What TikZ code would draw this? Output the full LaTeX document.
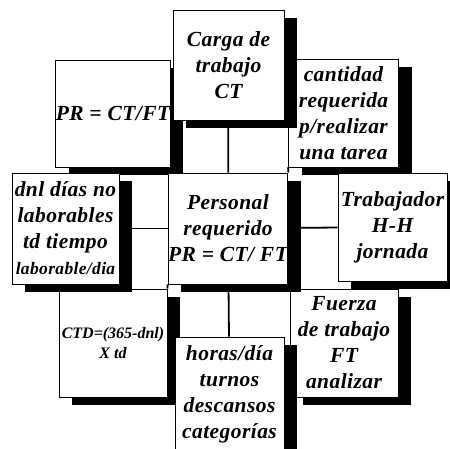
\documentclass[tikz,border=0pt]{standalone}
\usepackage{fontspec}
\setmainfont{Liberation Serif}
\usetikzlibrary{shadows,backgrounds}
\begin{document}
\begin{tikzpicture}[x=1pt,y=-1pt,
  box/.style={draw=black, line width=0.8pt, fill=white, rectangle, inner sep=0pt,
    align=center, font=\fontsize{21.5}{26}\selectfont\bfseries\itshape\addfontfeatures{LetterSpace=2},
    drop shadow={shadow xshift=13pt, shadow yshift=-8pt, fill=black, opacity=1}},
  link/.style={draw=black, line width=1.8pt},
  small/.style={font=\fontsize{16}{20}\selectfont\bfseries\itshape}]
\useasboundingbox (0,0) rectangle (450,448);
\clip (0,0) rectangle (450,448);
% corner boxes
\node[box, minimum width=108pt, minimum height=107pt] (prl) at (113,113.5) {PR = CT/FT};
\node[box, minimum width=110pt, minimum height=108pt] (cant) at (343.5,113) {cantidad\\requerida\\p/realizar\\una tarea};
\node[box, small, minimum width=108pt, minimum height=108pt] (ctd) at (113,343) {CTD=(365-dnl)\\X td};
\node[box, minimum width=108pt, minimum height=108pt] (fuerza) at (344,343) {Fuerza\\de trabajo\\FT\\analizar};
% orthogonal boxes
\node[box, minimum width=111pt, minimum height=110pt] (carga) at (228.5,65) {Carga de\\trabajo\\CT};
\node[box, minimum width=107pt, minimum height=111pt] (dnl) at (65.5,228.5) {dnl días no\\laborables\\td tiempo\\{\fontsize{17.5}{20}\selectfont laborable/dia}};
\node[box, minimum width=109pt, minimum height=108pt] (trab) at (392.5,227) {Trabajador\\H-H\\jornada};
\node[box, minimum width=109pt, minimum height=115pt, text depth=4pt] (horas) at (229.5,394.5) {horas/día\\turnos\\descansos\\categorías};
% center
\node[box, minimum width=110pt, minimum height=111pt] (cen) at (228,228.5) {Personal\\requerido\\PR = CT/ FT};
\begin{scope}[on background layer]
\draw[link] (carga) -- (cen);
\draw[link] (cen) -- (horas);
\draw[link] (dnl) -- (cen);
\draw[link] (cen) -- (trab);
\draw[link] (prl.south east) -- (cen.north west);
\draw[link] (cant.south west) -- (cen.north east);
\draw[link] (ctd.north east) -- (cen.south west);
\draw[link] (fuerza.north west) -- (cen.south east);
\end{scope}
\end{tikzpicture}
\end{document}
